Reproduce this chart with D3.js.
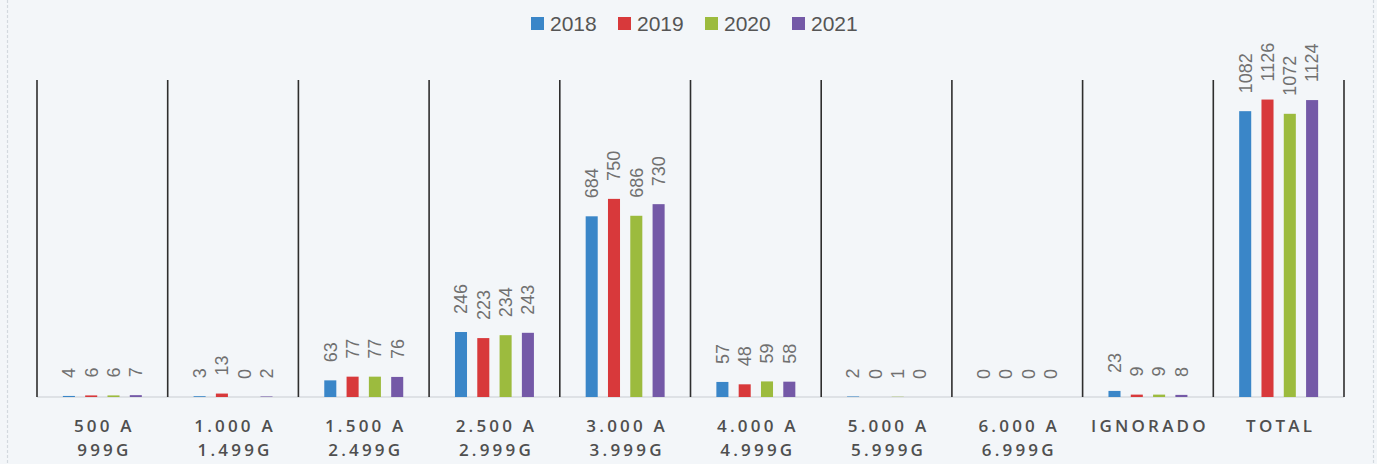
<!DOCTYPE html>
<html>
<head>
<meta charset="utf-8">
<script src="https://cdn.jsdelivr.net/npm/d3@7"></script>
<style>
  body { margin: 0; background: #f3f6f9; }
  svg { display: block; }
</style>
</head>
<body>
<div id="chart"></div>
<script>
//Categories (two line labels split by "|")
var categories = ["500 A|999G", "1.000 A|1.499G", "1.500 A|2.499G", "2.500 A|2.999G",
  "3.000 A|3.999G", "4.000 A|4.999G", "5.000 A|5.999G", "6.000 A|6.999G", "IGNORADO", "TOTAL"];

//Series
var years = ["2018", "2019", "2020", "2021"];
var values2018 = [4, 3, 63, 246, 684, 57, 2, 0, 23, 1082];
var values2019 = [6, 13, 77, 223, 750, 48, 0, 0, 9, 1126];
var values2020 = [6, 0, 77, 234, 686, 59, 1, 0, 9, 1072];
var values2021 = [7, 2, 76, 243, 730, 58, 0, 0, 8, 1124];
var colors = ["#3a86c8", "#d8393b", "#9cbb3e", "#7459a7"];

var w = 1377;
var h = 464;

var seriesValues = [values2018, values2019, values2020, values2021];

//Rows for binding
var rows = categories.map(function(c, i) {
  return {
    cat: c,
    vals: years.map(function(y, j) { return { year: y, value: seriesValues[j][i] }; })
  };
});

//Scales
var x0 = d3.scaleBand()
  .domain(categories)
  .range([37, 1344])
  .padding(0);

var x1 = d3.scaleBand()
  .domain(years)
  .range([0, x0.bandwidth()])
  .paddingInner(0.46)
  .paddingOuter(1.16);

var yScale = d3.scaleLinear()
  .domain([0, 1200])
  .range([397, 80]);

var color = d3.scaleOrdinal().domain(years).range(colors);

var svg = d3.select("#chart")
  .append("svg")
  .attr("width", w)
  .attr("height", h);

//Page edges of the scan
svg.selectAll("line.edge")
  .data([7.5, 1373.5])
  .enter()
  .append("line")
  .attr("class", "edge")
  .attr("x1", function(d) { return d; })
  .attr("x2", function(d) { return d; })
  .attr("y1", 0)
  .attr("y2", h)
  .attr("stroke", "#d3d9df")
  .attr("stroke-width", 1.2)
  .attr("stroke-dasharray", "3,2");

//Baseline
svg.append("line")
  .attr("x1", x0.range()[0])
  .attr("x2", x0.range()[1])
  .attr("y1", yScale(0))
  .attr("y2", yScale(0))
  .attr("stroke", "#c9cdd2")
  .attr("stroke-width", 1);

//Separator lines between categories
var bounds = categories.map(function(c) { return x0(c); }).concat([x0.range()[1]]);
svg.selectAll("line.sep")
  .data(bounds)
  .enter()
  .append("line")
  .attr("class", "sep")
  .attr("x1", function(d) { return d; })
  .attr("x2", function(d) { return d; })
  .attr("y1", yScale(1200))
  .attr("y2", yScale(0))
  .attr("stroke", "#2e2e2e")
  .attr("stroke-width", 1.6);

//Bars
var groups = svg.selectAll("g.cat")
  .data(rows)
  .enter()
  .append("g")
  .attr("class", "cat")
  .attr("transform", function(d) { return "translate(" + x0(d.cat) + ",0)"; });

groups.selectAll("rect")
  .data(function(d) { return d.vals; })
  .enter()
  .append("rect")
  .attr("x", function(d) { return x1(d.year); })
  .attr("y", function(d) { return yScale(d.value); })
  .attr("width", x1.bandwidth())
  .attr("height", function(d) { return yScale(0) - yScale(d.value); })
  .attr("fill", function(d) { return color(d.year); });

//Value labels, rotated
groups.selectAll("text.val")
  .data(function(d) { return d.vals; })
  .enter()
  .append("text")
  .attr("class", "val")
  .attr("transform", function(d) {
    return "translate(" + (x1(d.year) + x1.bandwidth() / 2) + "," + (yScale(d.value) - 18) + ") rotate(-90)";
  })
  .attr("dy", "0.35em")
  .attr("text-anchor", "start")
  .style("font-family", "'Liberation Sans', Arial, sans-serif")
  .style("font-size", "18px")
  .style("fill", "#707070")
  .text(function(d) { return d.value; });

//X axis
var xAxis = d3.axisBottom(x0).tickSize(0).tickFormat("");
var gx = svg.append("g")
  .attr("class", "axis x")
  .attr("transform", "translate(0," + yScale(0) + ")")
  .call(xAxis);
gx.select(".domain").remove();

gx.selectAll(".tick text").remove();
gx.selectAll(".tick")
  .append("text")
  .attr("text-anchor", "middle")
  .style("font-family", "'Open Sans', sans-serif")
  .style("font-size", "17px")
  .style("font-weight", "600")
  .style("letter-spacing", "3.2px")
  .style("fill", "#4f4f4f")
  .each(function(d) {
    var lines = d.split("|");
    var t = d3.select(this);
    lines.forEach(function(l, i) {
      t.append("tspan")
        .attr("x", 2)
        .attr("y", 35 + i * 24)
        .text(l);
    });
  });

//Legend
var legendX = 531;
var legend = svg.selectAll("g.legend")
  .data(years)
  .enter()
  .append("g")
  .attr("class", "legend")
  .attr("transform", function(d, i) { return "translate(" + (legendX + i * 87) + ",0)"; });

legend.append("rect")
  .attr("x", 0)
  .attr("y", 17)
  .attr("width", 13)
  .attr("height", 13)
  .attr("fill", function(d) { return color(d); });

legend.append("text")
  .attr("x", 19)
  .attr("y", 31)
  .style("font-family", "'Liberation Sans', Arial, sans-serif")
  .style("font-size", "21px")
  .style("fill", "#555")
  .text(function(d) { return d; });
</script>
</body>
</html>
